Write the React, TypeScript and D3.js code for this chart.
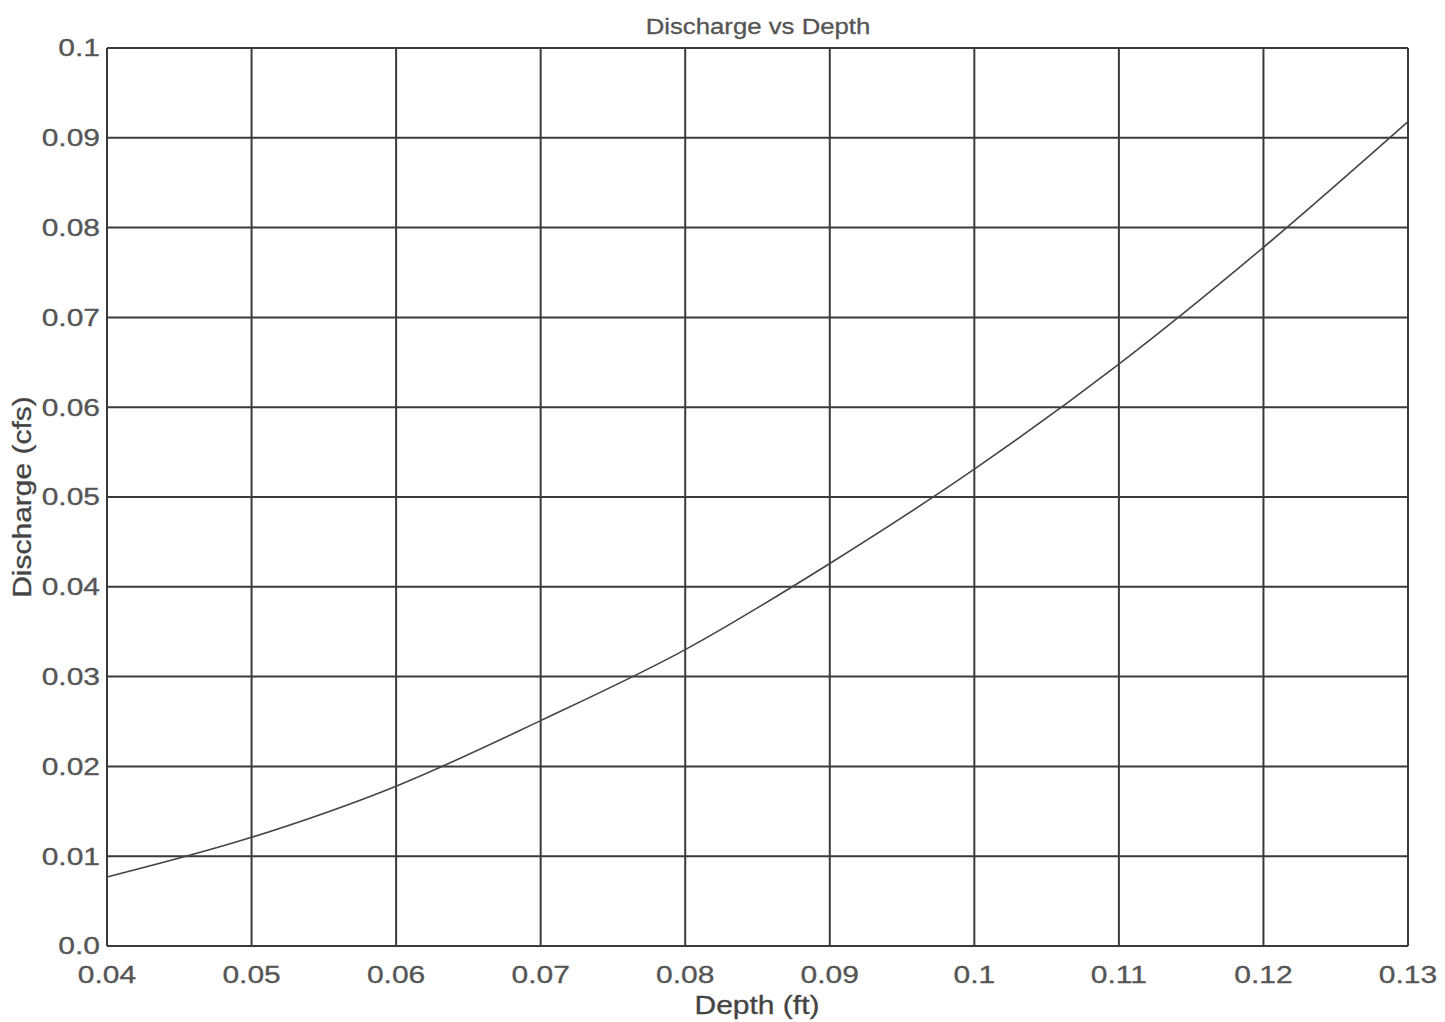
import React from "react";
import * as d3 from "d3";

const depths = [0.04, 0.05, 0.06, 0.07, 0.08, 0.09, 0.1, 0.11, 0.12, 0.13];
const discharge = [0.00768, 0.0121, 0.0178, 0.0251, 0.033, 0.0426, 0.0531, 0.0648, 0.0778, 0.0918];
const xTicks = [0.04, 0.05, 0.06, 0.07, 0.08, 0.09, 0.1, 0.11, 0.12, 0.13];
const xTickLabels = ["0.04", "0.05", "0.06", "0.07", "0.08", "0.09", "0.1", "0.11", "0.12", "0.13"];
const yTicks = [0, 0.01, 0.02, 0.03, 0.04, 0.05, 0.06, 0.07, 0.08, 0.09, 0.1];
const yTickLabels = ["0.0", "0.01", "0.02", "0.03", "0.04", "0.05", "0.06", "0.07", "0.08", "0.09", "0.1"];
const title = "Discharge vs Depth";
const xTitle = "Depth (ft)";
const yTitle = "Discharge (cfs)";

const font = "'Liberation Sans', Arial, sans-serif";

function Label(props: { x: number; y: number; anchor: string; size: number; sx: number; fill: string; rotate?: number; children: string }) {
  const { x, y, anchor, size, sx, fill, rotate, children } = props;
  return (
    <g transform={`translate(${x},${y}) rotate(${rotate || 0}) scale(${sx},1)`}>
      <text x={0} y={0} dy="0.35em" textAnchor={anchor as any} fontFamily={font} fontSize={size} fill={fill} stroke={fill} strokeWidth={0.3}>
        {children}
      </text>
    </g>
  );
}

export default function App() {
  const W = 1445, H = 1022;
  const left = 107, right = 1408, top = 48, bottom = 946;
  const x = d3.scaleLinear().domain([0.04, 0.13]).range([left, right]);
  const y = d3.scaleLinear().domain([0, 0.1]).range([bottom, top]);
  const line = d3.line<number>()
    .x((_, i) => x(depths[i]))
    .y((d) => y(d))
    .curve(d3.curveMonotoneX);
  return (
    <svg width={W} height={H} style={{ position: "absolute", left: 0, top: 0, background: "#fff" }}>
      <rect x={0} y={0} width={W} height={H} fill="#fff" />
      {xTicks.map((t) => (
        <line key={"gx" + t} x1={x(t)} x2={x(t)} y1={top} y2={bottom} stroke="#3a3a3a" strokeWidth={2} />
      ))}
      {yTicks.map((t) => (
        <line key={"gy" + t} x1={left} x2={right} y1={y(t)} y2={y(t)} stroke="#3a3a3a" strokeWidth={2} />
      ))}
      <path d={line(discharge) || ""} fill="none" stroke="#444" strokeWidth={1.6} />
      {yTicks.map((t, i) => (
        <Label key={"ty" + t} x={left - 7} y={y(t)} anchor="end" size={24} sx={1.25} fill="#555">
          {yTickLabels[i]}
        </Label>
      ))}
      {xTicks.map((t, i) => (
        <Label key={"tx" + t} x={x(t)} y={975} anchor="middle" size={24} sx={1.25} fill="#555">
          {xTickLabels[i]}
        </Label>
      ))}
      <Label x={758} y={26} anchor="middle" size={23} sx={1.12} fill="#555">{title}</Label>
      <Label x={757} y={1005} anchor="middle" size={25} sx={1.2} fill="#444">{xTitle}</Label>
      <Label x={22} y={497} anchor="middle" rotate={-90} size={25} sx={1.2} fill="#444">{yTitle}</Label>
    </svg>
  );
}
